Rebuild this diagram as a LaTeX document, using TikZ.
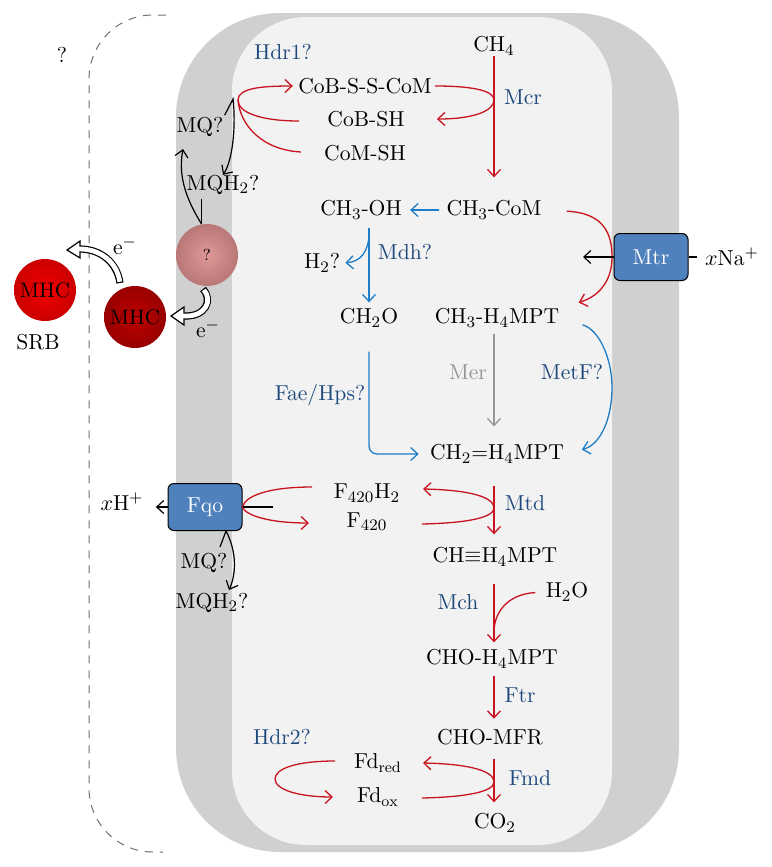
\documentclass[tikz,border=0pt]{standalone}
\usepackage{fontspec}
\usetikzlibrary{arrows.meta}

\definecolor{membrane}{RGB}{208,208,208}
\definecolor{cytoplasm}{RGB}{242,242,242}
\definecolor{dashgray}{RGB}{110,110,110}
\definecolor{enzblue}{RGB}{31,73,125}
\definecolor{arrblue}{RGB}{30,125,200}
\definecolor{rxnred}{RGB}{200,20,30}
\definecolor{mergray}{RGB}{150,150,150}
\definecolor{boxblue}{RGB}{79,129,189}
\definecolor{pinkq}{RGB}{218,140,140}
\definecolor{mhcdark}{RGB}{190,0,0}
\definecolor{mhcbright}{RGB}{240,0,0}

\tikzset{
  met/.style={inner sep=0pt, font=\fontsize{10.8}{13}\selectfont},
  enz/.style={met, text=enzblue},
  redline/.style={rxnred, line width=0.65pt},
  redarr/.style={redline, ->},
  bluearr/.style={arrblue, line width=0.65pt, ->},
  grayarr/.style={mergray, line width=0.65pt, ->},
  blkline/.style={black, line width=0.6pt},
  blkarr/.style={blkline, ->},
  cplx/.style={draw, line width=0.5pt, fill=boxblue, rounded corners=3pt, minimum width=37pt, minimum height=23.5pt, text=white, font=\fontsize{10.8}{13}\selectfont},
  heme/.style={circle, minimum size=31pt, inner sep=0pt, font=\fontsize{10.5}{12}\selectfont},
  bracket/.style={draw=dashgray, line width=0.5pt, dash pattern=on 4pt off 3.5pt, rounded corners=32pt},
}

\begin{document}
\begin{tikzpicture}[x=0.5pt, y=-0.5pt, >={Straight Barb[length=3.5pt,width=6.5pt]}]
  \useasboundingbox (0,0) rectangle (771,867);
  \fill[membrane, rounded corners=52pt] (176,13) rectangle (679,852);
  \fill[cytoplasm, rounded corners=37pt] (232,17) rectangle (612,845);
  \path[bracket] (166,15) -- (89,15) -- (89,852) -- (163,852);

  \node[met] (unk) at (62,55) {?};
  \node[heme, shading=radial, inner color=mhcbright, outer color=mhcbright!85!black] (srbmhc) at (45,290) {MHC};
  \node[met] (srb) at (38,342) {SRB};
  \node[heme, shading=radial, inner color=mhcdark, outer color=mhcdark!80!black] (mhc) at (135,317) {MHC};
  \node[heme, shading=radial, inner color=pinkq!90!white, outer color=pinkq!85!black, font=\fontsize{8}{9}\selectfont] (qc) at (207,255) {?};
  \node[met] (etop) at (125,246) {e$^-$};
  \node[met] (ebot) at (208,329) {e$^-$};

  \draw[line width=3.6pt] (120,283) .. controls (117,262) and (100,249) .. (80,249);
  \filldraw[fill=white, line width=0.6pt] (67,250) -- (80,241) -- (80,258) -- cycle;
  \draw[white, line width=2.4pt, shorten <=0.6pt] (120,283) .. controls (117,262) and (100,249) .. (80,249) -- (77,249);
  \draw[line width=3.6pt] (203,289) .. controls (213,300) and (206,317) .. (184,316);
  \filldraw[fill=white, line width=0.6pt] (171,316) -- (184,307) -- (184,325) -- cycle;
  \draw[white, line width=2.4pt, shorten <=0.6pt] (203,289) .. controls (213,300) and (206,317) .. (184,316) -- (181,316);

  \node[enz] (hdr1) at (283,52) {Hdr1?};
  \node[met] (cobsscom) at (365,86) {CoB-S-S-CoM};
  \node[met] (cobsh) at (366,119) {CoB-SH};
  \node[met] (comsh) at (365,153) {CoM-SH};
  \node[met] (mq1) at (200,127) {MQ?};
  \node[met] (mqh1) at (223,185) {MQH$_2$?};

  \coordinate (axis) at (494,0);
  \node[met] (ch4) at (494,46) {CH$_4$};
  \node[enz] (mcr) at (523,97) {Mcr};
  \node[met] (ch3com) at (494,210) {CH$_3$-CoM};
  \node[met] (ch3oh) at (361,210) {CH$_3$-OH};
  \node[enz] (mdh) at (405,252) {Mdh?};
  \node[met] (h2) at (322,263) {H$_2$?};
  \node[met] (ch2o) at (369,318) {CH$_2$O};
  \node[met] (ch3mpt) at (497,318) {CH$_3$-H$_4$MPT};
  \node[met, text=mergray] (mer) at (468,372) {Mer};
  \node[enz] (metf) at (572,372) {MetF?};
  \node[enz] (faehps) at (320,395) {Fae/Hps?};
  \node[met] (ch2mpt) at (497,454) {CH$_2$=H$_4$MPT};
  \node[met] (f420h2) at (367,493) {F$_{420}$H$_2$};
  \node[met] (f420) at (367,522) {F$_{420}$};
  \node[enz] (mtd) at (525,503) {Mtd};
  \node[met] (chmpt) at (495,557) {CH$\equiv$H$_4$MPT};
  \node[enz] (mch) at (458,602) {Mch};
  \node[met] (h2o) at (567,592) {H$_2$O};
  \node[met] (chompt) at (492,659) {CHO-H$_4$MPT};
  \node[enz] (ftr) at (520,695) {Ftr};
  \node[met] (chomfr) at (490,737) {CHO-MFR};
  \node[enz] (fmd) at (530,778) {Fmd};
  \node[met] (co2) at (495,823) {CO$_2$};
  \node[enz] (hdr2) at (282,737) {Hdr2?};
  \node[met] (fdred) at (378,763) {Fd$_{\mathrm{red}}$};
  \node[met] (fdox) at (378,797) {Fd$_{\mathrm{ox}}$};

  \node[cplx] (mtr) at (651,257) {Mtr};
  \node[met] (na) at (732,257) {$x$Na$^+$};
  \node[cplx] (fqo) at (205,507) {Fqo};
  \node[met] (hplus) at (122,502) {$x$H$^+$};
  \node[met] (mq2) at (204,563) {MQ?};
  \node[met] (mqh2) at (212,603) {MQH$_2$?};

  \coordinate (mcrturn) at (494,100);
  \draw[redarr, shorten >=11.5pt] (ch4.south -| axis) -- (ch3com.north -| axis);
  \draw[redarr, shorten <=1.5pt, shorten >=16pt] (cobsscom.east) .. controls (478,86) and (494,92) .. (mcrturn) .. controls (494,110) and (476,119) .. (cobsh.east);

  \coordinate (hdrturn) at (238,100);
  \coordinate (hdrb) at (299,121);
  \coordinate (hdrc) at (301,152);
  \draw[redarr, shorten >=2.5pt] (hdrb) .. controls (262,121) and (238,113) .. (hdrturn) .. controls (238,88) and (262,86) .. (cobsscom.west);
  \draw[redline] (hdrc) .. controls (262,150) and (240,125) .. (hdrturn);

  \coordinate (hdrq) at (233,99);
  \coordinate (mqtip) at (183,149);
  \draw[blkarr, shorten <=1pt] (mq1.north east) -- (hdrq) .. controls (236,125) and (233,160) .. (mqh1.north);
  \draw[blkarr] (qc.100) .. controls (190,205) and (177,180) .. (mqtip);
  \draw[blkline, shorten >=2pt] (qc.100) -- (mqh1.south -| qc.100);

  \draw[bluearr, shorten <=3.5pt, shorten >=4pt] (ch3com) -- (ch3oh);
  \coordinate (mdhsplit) at (369,233);
  \draw[bluearr, shorten <=4pt, shorten >=3pt] (ch3oh.south -| ch2o.north) -- (ch2o.north);
  \draw[bluearr, shorten >=2.5pt] (mdhsplit) .. controls (369,252) and (360,262) .. (h2.east);
  \draw[bluearr, rounded corners=4pt, shorten <=12pt, shorten >=5.5pt] (ch2o.south) -- (ch2o.south |- ch2mpt) -- (ch2mpt.west);
  \draw[bluearr, shorten <=12pt, shorten >=9pt] (ch3mpt.east) .. controls (600,330) and (612,360) .. (612,387) .. controls (612,420) and (600,445) .. (ch2mpt.east);
  \draw[grayarr, shorten <=3pt, shorten >=9pt] (ch3mpt.south -| axis) -- (ch2mpt.north -| axis);

  \coordinate (mtrout) at (583,257);
  \draw[redarr, shorten <=12.5pt, shorten >=10pt] (ch3com.east) .. controls (605,213) and (612,235) .. (612,257) .. controls (612,280) and (600,296) .. (ch3mpt.north east);
  \draw[blkarr] (mtr.west) -- (mtrout);
  \draw[blkline, shorten >=4pt] (mtr.east) -- (na.west);

  \coordinate (mtda) at (422,524);
  \coordinate (mtdturn) at (494,508);
  \coordinate (mtdb) at (423,489);
  \draw[redarr, shorten <=11pt, shorten >=6.5pt] (ch2mpt.south -| axis) -- (chmpt.north -| axis);
  \draw[redarr] (mtda) .. controls (470,523) and (494,517) .. (mtdturn) .. controls (494,497) and (470,490) .. (mtdb);

  \coordinate (fqoa) at (312,487);
  \coordinate (fqob) at (309,523);
  \coordinate (fqoin) at (273,505);
  \draw[redarr] (fqoa) .. controls (268,487) and (245,496) .. (fqo.east) .. controls (245,515) and (268,523) .. (fqob);
  \draw[blkline] (fqo.east) -- (fqo.east -| fqoin);
  \draw[blkarr, shorten >=6pt] (fqo.west) -- (fqo.west -| hplus.east);
  \coordinate (mqa) at (220,547);
  \coordinate (fqov) at (226,531);
  \coordinate (mqhtip) at (229,590);
  \draw[blkarr] (mqa) -- (fqov) .. controls (236,550) and (237,572) .. (mqhtip);

  \coordinate (mchjoin) at (494,632);
  \draw[redarr, shorten <=8.5pt, shorten >=3.5pt] (chmpt.south -| axis) -- (chompt.north -| axis);
  \draw[redline, shorten <=5pt] (h2o.west) .. controls (508,594) and (494,612) .. (mchjoin);
  \draw[redarr, shorten <=3.5pt, shorten >=5pt] (chompt.south -| axis) -- (chomfr.north -| axis);

  \coordinate (fmda) at (422,798);
  \coordinate (fmdturn) at (494,782);
  \coordinate (fmdb) at (423,763);
  \draw[redarr, shorten <=7pt, shorten >=5.5pt] (chomfr.south -| axis) -- (co2.north -| axis);
  \draw[redarr] (fmda) .. controls (470,797) and (494,791) .. (fmdturn) .. controls (494,771) and (470,764) .. (fmdb);

  \coordinate (hdr2a) at (335,761);
  \coordinate (hdr2turn) at (275,779);
  \coordinate (hdr2b) at (333,797);
  \draw[redarr] (hdr2a) .. controls (295,761) and (275,769) .. (hdr2turn) .. controls (275,790) and (300,797) .. (hdr2b);
\end{tikzpicture}
\end{document}
